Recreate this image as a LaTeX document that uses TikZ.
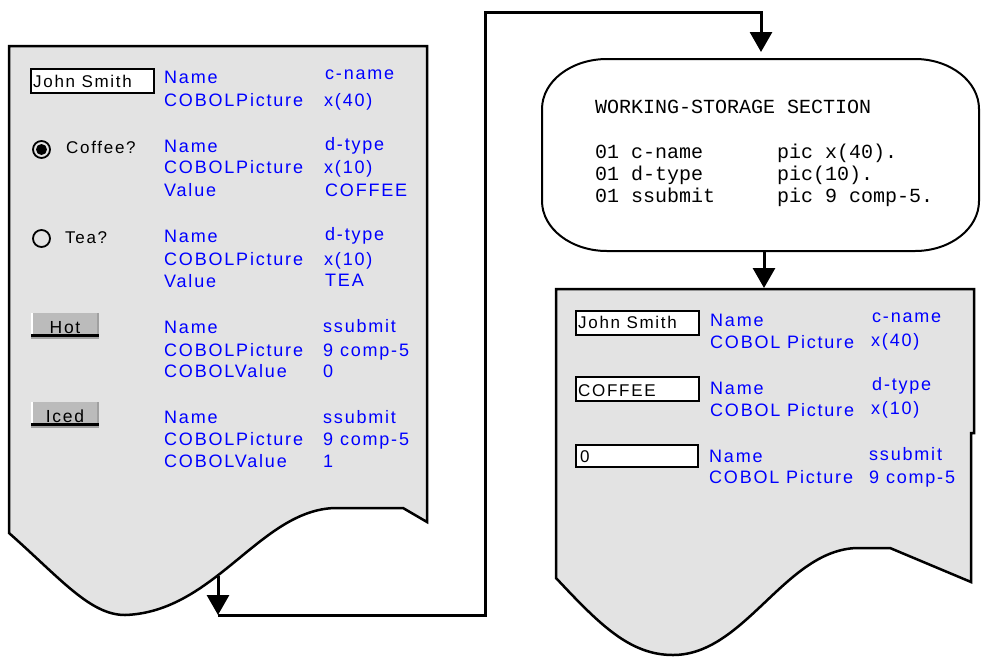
\documentclass[tikz,border=0pt]{standalone}
\usepackage{fontspec}
\setmainfont{Liberation Sans}
\newfontfamily\lblfont[LetterSpace=10]{Liberation Sans}
\newfontfamily\codefont{Liberation Mono}
\usetikzlibrary{arrows.meta}
\definecolor{docgray}{RGB}{227,227,227}
\definecolor{btngray}{RGB}{187,187,187}
\definecolor{btnshade}{RGB}{160,160,160}
\definecolor{lblblue}{RGB}{0,0,255}
\begin{document}
\begin{tikzpicture}[x=1pt,y=-1pt,
  doc/.style={fill=docgray,draw=black,line width=2.5pt,line join=miter},
  flow/.style={line width=3pt,line join=miter},
  tip/.style={-{Triangle[width=22pt,length=20pt]}},
  lbl/.style={anchor=base west,inner sep=0pt,text=lblblue,font=\lblfont\fontsize{18}{20}\selectfont},
  blk/.style={anchor=base west,inner sep=0pt,text=black,font=\lblfont\fontsize{17}{20}\selectfont},
  btntext/.style={anchor=base,inner sep=0pt,text=black,font=\lblfont\fontsize{17.5}{20}\selectfont},
  code/.style={anchor=base west,inner sep=0pt,font=\codefont\fontsize{20}{22}\selectfont},
  field/.style={draw=black,line width=2pt,fill=white},
  termline/.style={draw=black,line width=2pt},
  ]
\useasboundingbox (0,0) rectangle (981,656);

% ---------- left document ----------
\draw[doc] (9,533) -- (9,46) -- (427,46) -- (427,522) -- (403,508) -- (335,508)
  .. controls (260,510) and (215,612) .. (125,615)
  .. controls (90,615) and (60,578) .. (9,533) -- cycle;

% row 1
\node[field,minimum width=123pt,minimum height=24pt,inner sep=0pt] (f1) at (92.5,80.5) {};
\node[blk] (t1) at (33,87) {John Smith};
\node[lbl] (l1a) at (164,83) {Name};
\node[lbl] (l1b) at (164,106) {COBOLPicture};
\node[lbl] (v1a) at (325,79) {c-name};
\node[lbl] (v1b) at (324,106) {x(40)};

% row 2
\draw[line width=1.8pt,fill=docgray] (41.5,149.5) circle (8.5);
\fill (41.5,149.5) circle (5.5);
\node[blk] (t2) at (66,153) {Coffee?};
\node[lbl] (l2a) at (164,152) {Name};
\node[lbl] (l2b) at (164,173) {COBOLPicture};
\node[lbl] (l2c) at (164,196) {Value};
\node[lbl] (v2a) at (325,150) {d-type};
\node[lbl] (v2b) at (324,173) {x(10)};
\node[lbl] (v2c) at (325,196) {COFFEE};

% row 3
\draw[line width=1.8pt] (41.5,238.5) circle (8.5);
\node[blk] (t3) at (65,243) {Tea?};
\node[lbl] (l3a) at (164,242) {Name};
\node[lbl] (l3b) at (164,265) {COBOLPicture};
\node[lbl] (l3c) at (164,287) {Value};
\node[lbl] (v3a) at (325,240) {d-type};
\node[lbl] (v3b) at (324,265) {x(10)};
\node[lbl] (v3c) at (325,286) {TEA};

% row 4 (Hot button)
\fill[btngray] (31,313) rectangle (99,336);
\draw[white,line width=1.5pt] (31.75,313) -- (31.75,335);
\draw[btnshade,line width=2pt] (98,313) -- (98,336);
\draw[black,line width=2.5pt] (31,335.5) -- (99,335.5);
\draw[btnshade,line width=2pt] (31,338) -- (99,338);
\node[btntext] (b1) at (65,333) {Hot};
\node[lbl] (l4a) at (164,333) {Name};
\node[lbl] (l4b) at (164,356) {COBOLPicture};
\node[lbl] (l4c) at (164,377) {COBOLValue};
\node[lbl] (v4a) at (323,332) {ssubmit};
\node[lbl] (v4b) at (323,356) {9 comp-5};
\node[lbl] (v4c) at (323,377) {0};

% row 5 (Iced button)
\fill[btngray] (31,402) rectangle (99,425);
\draw[white,line width=1.5pt] (31.75,402) -- (31.75,424);
\draw[btnshade,line width=2pt] (98,402) -- (98,425);
\draw[black,line width=2.5pt] (31,424.5) -- (99,424.5);
\draw[btnshade,line width=2pt] (31,427) -- (99,427);
\node[btntext] (b2) at (65,422) {Iced};
\node[lbl] (l5a) at (164,423) {Name};
\node[lbl] (l5b) at (164,445) {COBOLPicture};
\node[lbl] (l5c) at (164,467) {COBOLValue};
\node[lbl] (v5a) at (323,423) {ssubmit};
\node[lbl] (v5b) at (323,445) {9 comp-5};
\node[lbl] (v5c) at (323,467) {1};

% ---------- terminator (rounded box with elliptic corners) ----------
\draw[termline] (607,59) -- (915,59)
  arc[start angle=-90,end angle=0,x radius=64,y radius=50] -- (979,201)
  arc[start angle=0,end angle=90,x radius=64,y radius=50] -- (607,251)
  arc[start angle=90,end angle=180,x radius=65,y radius=50] -- (542,109)
  arc[start angle=180,end angle=270,x radius=65,y radius=50] -- cycle;
\node[code] (c0) at (595,113) {WORKING-STORAGE SECTION};
\node[code] (c1a) at (595,158) {01 c-name};
\node[code] (c1b) at (777,158) {pic x(40).};
\node[code] (c2a) at (595,180) {01 d-type};
\node[code] (c2b) at (777,180) {pic(10).};
\node[code] (c3a) at (595,202) {01 ssubmit};
\node[code] (c3b) at (777,202) {pic 9 comp-5.};

% ---------- right document ----------
\draw[doc] (556,578) -- (556,289) -- (974,289) -- (974,433) -- (971,433) -- (971,582)
  -- (890,548) -- (857,548)
  .. controls (785,550) and (745,655) .. (673,655)
  .. controls (630,655) and (600,625) .. (556,578) -- cycle;

\node[field,minimum width=123pt,minimum height=24pt,inner sep=0pt] (g1) at (637.5,323) {};
\node[blk] (s1) at (578,328) {John Smith};
\node[lbl] (r1a) at (710,326) {Name};
\node[lbl] (r1b) at (710,348) {COBOL Picture};
\node[lbl] (w1a) at (872,322) {c-name};
\node[lbl] (w1b) at (871,346) {x(40)};

\node[field,minimum width=123pt,minimum height=24pt,inner sep=0pt] (g2) at (637.5,389) {};
\node[blk] (s2) at (578,396) {COFFEE};
\node[lbl] (r2a) at (710,394) {Name};
\node[lbl] (r2b) at (710,416) {COBOL Picture};
\node[lbl] (w2a) at (872,390) {d-type};
\node[lbl] (w2b) at (871,414) {x(10)};

\node[field,minimum width=122pt,minimum height=22pt,inner sep=0pt] (g3) at (637,456) {};
\node[blk] (s3) at (580,462) {0};
\node[lbl] (r3a) at (709,462) {Name};
\node[lbl] (r3b) at (709,483) {COBOL Picture};
\node[lbl] (w3a) at (869,460) {ssubmit};
\node[lbl] (w3b) at (869,483) {9 comp-5};

% ---------- connectors ----------
\coordinate (lout) at (218,576);
\coordinate (lcorner) at (218,615);
\coordinate (vtop) at (485,12);
\coordinate (wsin) at (761,52);
\coordinate (wsout) at (764,252);
\coordinate (rin) at (764,288);

\draw[flow,tip] (lout) -- (lcorner);
\draw[flow,tip] (lcorner) -| (vtop) -| (wsin);
\draw[flow,tip] (wsout) -- (rin);
\end{tikzpicture}
\end{document}
